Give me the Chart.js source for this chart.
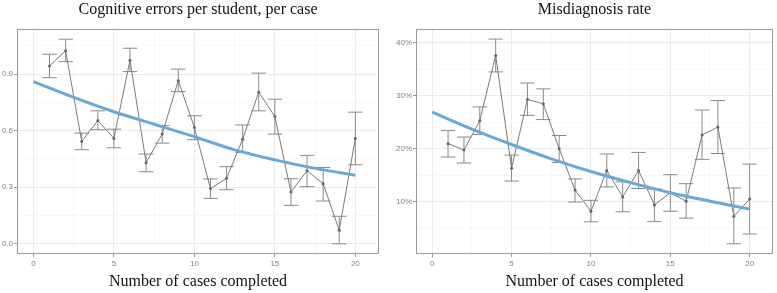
<!DOCTYPE html>
<html>
<head>
<meta charset="utf-8">
<script src="https://cdn.jsdelivr.net/npm/chart.js@4.4.1/dist/chart.umd.min.js"></script>
<style>
  body { margin: 0; background: #fff; width: 777px; height: 293px; overflow: hidden; position: relative; }
  canvas { position: absolute; top: 0; }
  #errChart { left: 0; }
  #misChart { left: 390px; }
</style>
</head>
<body>
<canvas id="errChart" width="390" height="293"></canvas>
<canvas id="misChart" width="387" height="293"></canvas>
<script>
// cases 1..20
const cases = [1,2,3,4,5,6,7,8,9,10,11,12,13,14,15,16,17,18,19,20];

// left panel: cognitive errors per student, per case
const errMean = [0.943,1.024,0.543,0.654,0.559,0.973,0.430,0.582,0.865,0.617,0.293,0.347,0.555,0.804,0.675,0.275,0.388,0.319,0.072,0.559];
const errLow  = [0.881,0.966,0.499,0.605,0.509,0.913,0.382,0.534,0.807,0.552,0.241,0.287,0.485,0.705,0.582,0.204,0.303,0.227,0.000,0.419];
const errHigh = [1.005,1.085,0.587,0.705,0.608,1.037,0.476,0.627,0.926,0.679,0.344,0.409,0.630,0.905,0.767,0.345,0.469,0.405,0.146,0.698];

// right panel: misdiagnosis rate (%)
const misMean = [20.96,19.76,25.3,37.6,16.3,29.3,28.5,20.0,12.2,8.2,15.9,10.9,15.9,9.4,11.7,10.1,22.6,24.1,7.26,10.5];
const misLow  = [18.44,17.3,22.7,34.5,13.9,26.3,25.5,17.4,9.94,6.2,12.8,8.1,12.5,6.25,8.2,6.9,18.0,19.1,2.06,3.9];
const misHigh = [23.45,22.2,27.9,40.7,18.8,32.4,31.3,22.5,14.3,10.26,19.0,13.75,19.3,12.4,15.1,13.4,27.3,29.1,12.6,17.1];

// fitted trend (blue), read at a few x positions
const fitX   = [0,2.5,5,7.5,10,12.5,15,17.5,20];
const errFit = [0.860,0.776,0.700,0.634,0.568,0.498,0.445,0.400,0.363];
const misFit = [26.9,23.7,20.8,18.1,15.7,13.6,11.7,10.1,8.6];

// tick labels
const caseTicks = [0,5,10,15,20];
const caseMinor = [2.5,7.5,12.5,17.5];
const errTicks = [0,0.3,0.6,0.9];
const errMinor = [0.15,0.45,0.75,1.05];
const misTicks = [10,20,30,40];
const misMinor = [5,15,25,35];

const serif = '"Liberation Serif", "Times New Roman", serif';
const sans = '"Liberation Sans", Arial, sans-serif';

// error bars, drawn under the lines
const errorBars = {
  id: 'errorBars',
  beforeDatasetsDraw(chart, args, opts) {
    const {ctx, scales: {x, y}} = chart;
    ctx.save();
    ctx.strokeStyle = '#8a8a8a';
    ctx.lineWidth = 1;
    opts.low.forEach((lo, i) => {
      const cx = x.getPixelForValue(cases[i]);
      const x0 = x.getPixelForValue(cases[i] - 0.45);
      const x1 = x.getPixelForValue(cases[i] + 0.45);
      const yl = y.getPixelForValue(lo);
      const yh = y.getPixelForValue(opts.high[i]);
      ctx.beginPath();
      ctx.moveTo(x0, yh); ctx.lineTo(x1, yh);
      ctx.moveTo(cx, yh); ctx.lineTo(cx, yl);
      ctx.moveTo(x0, yl); ctx.lineTo(x1, yl);
      ctx.stroke();
    });
    ctx.restore();
  }
};

// panel border on top
const panelBorder = {
  id: 'panelBorder',
  afterDatasetsDraw(chart) {
    const {ctx, chartArea: a} = chart;
    ctx.save();
    ctx.strokeStyle = '#9a9a9a';
    ctx.lineWidth = 1;
    ctx.strokeRect(Math.round(a.left) + 0.5, Math.round(a.top) + 0.5, Math.round(a.right - a.left) - 1, Math.round(a.bottom - a.top) - 1);
    ctx.restore();
  }
};

function makePanel(id, opt) {
  const major = v => opt.yTicks.includes(v);
  const xMajor = v => caseTicks.includes(v);
  return new Chart(document.getElementById(id), {
    type: 'line',
    data: {
      datasets: [
        {
          data: fitX.map((v, i) => ({x: v, y: opt.fit[i]})),
          borderColor: '#6aa8d6',
          borderWidth: 3,
          pointRadius: 0,
          cubicInterpolationMode: 'monotone',
          fill: false
        },
        {
          data: cases.map((c, i) => ({x: c, y: opt.mean[i]})),
          borderColor: '#7a7a7a',
          borderWidth: 1,
          pointRadius: 1.5,
          pointBackgroundColor: '#666',
          pointBorderWidth: 0,
          tension: 0,
          fill: false
        }
      ]
    },
    options: {
      responsive: false,
      animation: false,
      layout: { padding: { left: 0, right: opt.padRight, top: 0, bottom: 0 } },
      plugins: {
        legend: { display: false },
        tooltip: { enabled: false },
        title: {
          display: true,
          text: opt.title,
          fullSize: false,
          color: '#111',
          font: { family: serif, size: 16, weight: 'normal', lineHeight: 1 },
          padding: { top: 2, bottom: 11 }
        },
        errorBars: { low: opt.low, high: opt.high }
      },
      scales: {
        x: {
          type: 'linear',
          min: -1.02,
          max: 21.47,
          afterBuildTicks: s => { s.ticks = caseTicks.concat(caseMinor).sort((a, b) => a - b).map(v => ({value: v})); },
          afterFit: s => { s.height = 39; },
          border: { display: false },
          grid: {
            color: c => xMajor(c.tick.value) ? '#ebebeb' : '#f4f4f4',
            lineWidth: c => xMajor(c.tick.value) ? 1 : 0.6,
            tickLength: 3,
            tickColor: c => xMajor(c.tick.value) ? '#999' : 'rgba(0,0,0,0)'
          },
          ticks: {
            autoSkip: false,
            maxRotation: 0,
            padding: 2,
            color: '#808080',
            font: { family: sans, size: 8 },
            callback: v => xMajor(v) ? String(v) : ''
          },
          title: {
            display: true,
            text: 'Number of cases completed',
            color: '#111',
            font: { family: serif, size: 16, lineHeight: 1 },
            padding: { top: 0, bottom: 3 }
          }
        },
        y: {
          type: 'linear',
          min: opt.yMin,
          max: opt.yMax,
          afterBuildTicks: s => { s.ticks = opt.yTicks.concat(opt.yMinor).sort((a, b) => a - b).map(v => ({value: v})); },
          afterFit: s => { s.width = opt.yWidth; },
          border: { display: false },
          grid: {
            color: c => major(c.tick.value) ? '#ebebeb' : '#f4f4f4',
            lineWidth: c => major(c.tick.value) ? 1 : 0.6,
            tickLength: 3,
            tickColor: c => major(c.tick.value) ? '#999' : 'rgba(0,0,0,0)'
          },
          ticks: {
            autoSkip: false,
            padding: 1,
            color: '#808080',
            font: { family: sans, size: 8 },
            callback: v => major(v) ? opt.fmt(v) : ''
          }
        }
      }
    },
    plugins: [errorBars, panelBorder]
  });
}

makePanel('errChart', {
  title: 'Cognitive errors per student, per case',
  mean: errMean, low: errLow, high: errHigh, fit: errFit,
  yMin: -0.054, yMax: 1.139,
  yTicks: errTicks, yMinor: errMinor,
  fmt: v => v.toFixed(1),
  yWidth: 17, padRight: 11
});

makePanel('misChart', {
  title: 'Misdiagnosis rate',
  mean: misMean, low: misLow, high: misHigh, fit: misFit,
  yMin: 0.13, yMax: 42.6,
  yTicks: misTicks, yMinor: misMinor,
  fmt: v => v + '%',
  yWidth: 26, padRight: 2
});
</script>
</body>
</html>
